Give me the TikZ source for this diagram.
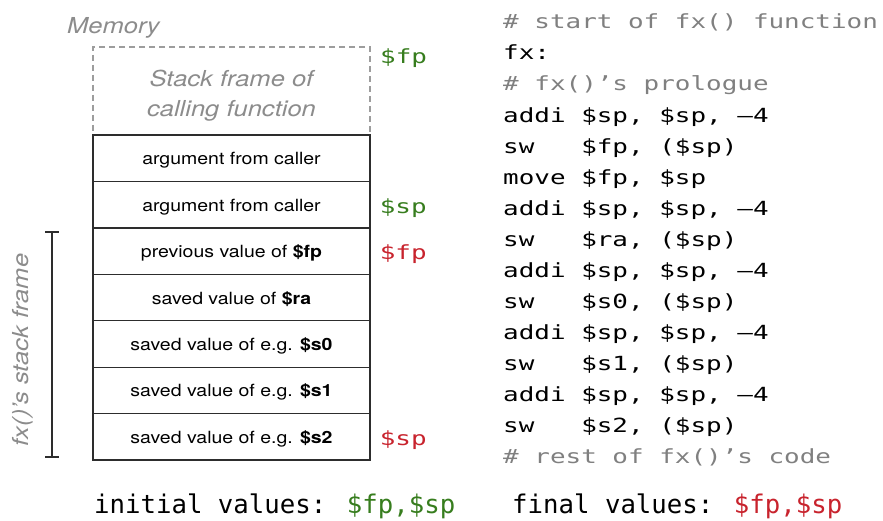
\documentclass[tikz,border=0pt]{standalone}
\usepackage{fontspec}
\setmainfont{TeX Gyre Heros}[FakeStretch=1.16]
\newfontfamily\codefont{DejaVu Sans Mono}[FakeStretch=1.33]
\newfontfamily\plainmono{DejaVu Sans Mono}
\usetikzlibrary{positioning}

\definecolor{regold}{RGB}{55,125,30}
\definecolor{regnew}{RGB}{200,35,45}
\definecolor{cmt}{RGB}{128,128,128}
\definecolor{notegray}{RGB}{140,140,140}
\definecolor{edge}{RGB}{45,45,45}

\tikzset{
  cell/.style={draw=edge, line width=1.3pt, minimum width=277pt, minimum height=46.43pt,
    inner sep=0pt, text height=13pt, text depth=0pt, font=\fontsize{16.8}{20}\selectfont},
  callerbox/.style={draw=notegray!85, line width=1.4pt, dash pattern=on 6pt off 4pt,
    minimum width=277pt, minimum height=88pt, align=center, text=notegray,
    font=\fontsize{22}{30}\selectfont\itshape},
  note/.style={text=notegray, inner sep=0pt, font=\fontsize{22}{26}\selectfont\itshape},
  reg/.style={inner sep=0pt, yshift=-3pt, font=\codefont\fontsize{19.5}{24}\selectfont},
  codeline/.style={anchor=base west, inner sep=0pt, font=\codefont\fontsize{19.5}{24}\selectfont},
  result/.style={anchor=base west, inner sep=0pt, font=\plainmono\fontsize{25.7}{30}\selectfont},
}

\begin{document}
\begin{tikzpicture}[x=1pt, y=-1pt]
\useasboundingbox (0,0) rectangle (883,521);

%memory
\node[note, anchor=base west] (mem) at (67,34) {Memory};
\node[callerbox] (caller) at (231.5,91) {\rule{0pt}{26pt}Stack frame of\\calling function};

%cells
\foreach \txt [count=\i] in {%
  {argument from caller},
  {argument from caller},
  {previous value of \textbf{\$fp}},
  {saved value of \textbf{\$ra}},
  {saved value of e.g. \textbf{\$s0}},
  {saved value of e.g. \textbf{\$s1}},
  {saved value of e.g. \textbf{\$s2}}}
  \node[cell] (r\i) at (231.5,{135+46.43*(\i-0.5)}) {\txt};

%registers
\node[reg, text=regold, anchor=west] (fpold) at (380,55) {\$fp};
\node[reg, text=regold, right=9pt of r2] (spold) {\$sp};
\node[reg, text=regnew, right=9pt of r3] (fpnew) {\$fp};
\node[reg, text=regnew, right=9pt of r7] (spnew) {\$sp};

%frame
\coordinate (ftop) at (52,232);
\coordinate (fbot) at (52,457);
\draw[edge, line width=1.3pt] (ftop) -- (fbot);
\draw[edge, line width=1.3pt] ([xshift=-7pt]ftop) -- ([xshift=7pt]ftop);
\draw[edge, line width=1.3pt] ([xshift=-7pt]fbot) -- ([xshift=7pt]fbot);
\node[note, rotate=90, anchor=base] (fxframe) at (28.5,350) {fx()'s stack frame};

%code
\foreach \ln [count=\i from 0] in {%
  {\color{cmt}\# start of fx() function},
  {fx:},
  {\color{cmt}\# fx()’s prologue},
  {addi \$sp, \$sp, –4},
  {sw\ \ \ \$fp, (\$sp)},
  {move \$fp, \$sp},
  {addi \$sp, \$sp, –4},
  {sw\ \ \ \$ra, (\$sp)},
  {addi \$sp, \$sp, –4},
  {sw\ \ \ \$s0, (\$sp)},
  {addi \$sp, \$sp, –4},
  {sw\ \ \ \$s1, (\$sp)},
  {addi \$sp, \$sp, –4},
  {sw\ \ \ \$s2, (\$sp)},
  {\color{cmt}\# rest of fx()’s code}}
  \node[codeline] (c\i) at (503,{28.8+31.07*\i}) {\ln};

%values
\node[result] (initv) at (94,513) {initial values: \textcolor{regold}{\$fp,\$sp}};
\node[result] (finalv) at (512,513) {final values: \textcolor{regnew}{\$fp,\$sp}};

\end{tikzpicture}
\end{document}
